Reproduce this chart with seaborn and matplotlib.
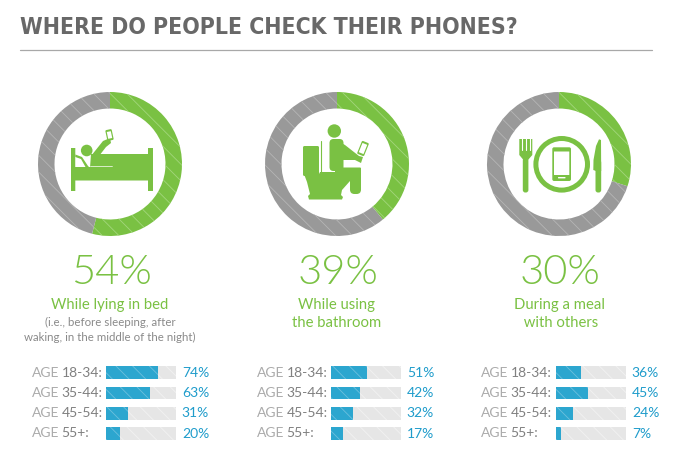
import matplotlib
matplotlib.use('Agg')
import matplotlib.pyplot as plt
import matplotlib.patches as mp
from matplotlib import font_manager as fm
from matplotlib.transforms import Affine2D
import pandas as pd
import seaborn as sns

# datos
title = 'WHERE DO PEOPLE CHECK THEIR PHONES?'
totals = [54, 39, 30]
totals_txt = ['54%', '39%', '30%']
labels = [['While lying in bed'], ['While using', 'the bathroom'], ['During a meal', ' with others']]
notes = ['(i.e., before sleeping, after\nwaking, in the middle of the night)', '', '']
ages = ['18-34:', '35-44:', '45-54:', '55+:']
by_age_bed = [74, 63, 31, 20]
by_age_bath = [51, 42, 32, 17]
by_age_meal = [36, 45, 24, 7]
track = [100, 100, 100, 100]

GREEN = '#7AC143'
GREY = '#999999'
BLUE = '#2CA6CF'
BLUE_TXT = '#1F9CCB'
TRACK = '#E6E6E6'

W, H = 686, 473
sns.set_theme(style='white')
plt.rcParams['font.family'] = ['Lato', 'DejaVu Sans']
plt.rcParams['hatch.linewidth'] = 0.6

fig = plt.figure(figsize=(W / 100, H / 100), dpi=100, facecolor='white')


def title_font():
    # busca una fuente estrecha en negrita; si no hay, Roboto
    found = []
    for f in fm.fontManager.ttflist:
        low = f.fname.lower()
        narrow = 'condensed' in low or 'narrow' in low or str(f.stretch) in ('condensed', 'semi-condensed', 'extra-condensed')
        if narrow and 'bold' in low and 'oblique' not in low and 'italic' not in low \
                and 'mono' not in low and 'serif' not in low:
            found.append(f.fname)
    if found:
        return fm.FontProperties(fname=sorted(found)[0])
    return fm.FontProperties(family='Roboto', weight='bold')


def px_axes(x0, y0, x1, y1):
    # ejes a partir de pixeles de la imagen (y hacia abajo)
    return fig.add_axes([x0 / W, 1 - y1 / H, (x1 - x0) / W, (y1 - y0) / H])


def donut(cx, cy, pct):
    r = 72
    ax = px_axes(cx - r, cy - r, cx + r, cy + r)
    wedges, _ = ax.pie([pct, 100 - pct], colors=[GREEN, GREY], startangle=90, counterclock=False,
                       radius=1, wedgeprops={'width': 16.5 / 72, 'linewidth': 0})
    wedges[0].set(hatch='\\\\', edgecolor='#A3D67C', linewidth=0)
    wedges[1].set(hatch='\\\\', edgecolor='#B5B5B5', linewidth=0)
    ax.set_xlim(-1, 1)
    ax.set_ylim(-1, 1)
    ax.axis('off')


def age_bars(x0, values):
    ax = px_axes(x0, 362.5, x0 + 70, 444)
    df = pd.DataFrame({'age': ages, 'pct': values, 'track': track})
    sns.barplot(data=df, y='age', x='track', color=TRACK, saturation=1, width=0.63, ax=ax)
    n = len(ax.patches)
    sns.barplot(data=df, y='age', x='pct', color=BLUE, saturation=1, width=0.63, ax=ax)
    for i, p in enumerate(ax.patches):
        p.set_linewidth(0)
        p.set_hatch('\\\\')
        p.set_edgecolor('#F2F2F2' if i < n else '#6CC0DD')
    ax.set_xlim(0, 100)
    ax.axis('off')
    for i, v in enumerate(values):
        ax.annotate(f'{v}%', xy=(1, i), xycoords=ax.get_yaxis_transform(), xytext=(4.2, 0),
                    textcoords='offset points', color=BLUE_TXT, fontsize=10, va='center')


def rrect(ax, x, y, w, h, r=1.0, color=GREEN, angle=0, z=3):
    p = mp.FancyBboxPatch((x, y), w, h, boxstyle=f'round,pad=0,rounding_size={r}', fc=color, ec='none', zorder=z)
    if angle:
        p.set_transform(Affine2D().rotate_deg_around(x + w / 2, y + h / 2, angle) + ax.transData)
    ax.add_patch(p)


def poly(ax, pts, color=GREEN, z=3):
    ax.add_patch(mp.Polygon(pts, closed=True, fc=color, ec='none', zorder=z))


def circ(ax, x, y, r, color=GREEN, z=3):
    ax.add_patch(mp.Circle((x, y), r, fc=color, ec='none', zorder=z))


def phone(ax, cx, cy, w, h, angle):
    rrect(ax, cx - w / 2, cy - h / 2, w, h, r=1.2, angle=angle)
    rrect(ax, cx - w / 2 + 1.2, cy - h / 2 + 2, w - 2.4, h - 4, r=0.3, color='white', angle=angle, z=4)


def icon_bed(ax):
    rrect(ax, 71, 148, 4.3, 43, r=0.2)
    rrect(ax, 148, 148, 5, 43, r=0.2)
    rrect(ax, 75, 167, 73, 13.5, r=0.2)
    poly(ax, [(91, 154.5), (148, 154.5), (148, 168), (90, 168)])
    ax.plot([90, 112], [166.4, 166.4], color='white', lw=0.5, zorder=4)
    circ(ax, 86.7, 150.5, 5.8)
    poly(ax, [(91, 156), (103, 141), (110, 138), (111, 143), (106, 147), (99, 156)])
    # almohada
    poly(ax, [(75.3, 167), (75.3, 154.5), (82, 157), (88, 166), (89, 167)])
    poly(ax, [(75.3, 167), (75.3, 157), (81, 159), (85.5, 167)], color='white', z=4)
    phone(ax, 109.5, 135, 6.5, 11, -12)


def icon_toilet(ax):
    rrect(ax, 303, 146, 16, 30, r=1.5)
    poly(ax, [(304, 174), (319, 174), (320, 172), (351, 172), (350, 181), (342, 190),
              (341, 195), (343, 197), (342, 199.5), (309, 199.5), (308, 196), (310, 194), (307, 182)])
    circ(ax, 334.3, 131, 6.7)
    rrect(ax, 329.5, 139, 14, 32, r=4)
    poly(ax, [(338, 141), (345, 145), (359, 156), (363, 157), (361, 163), (355, 160), (343, 160)])
    rrect(ax, 335, 167.5, 26, 8, r=1)
    rrect(ax, 350, 168, 11, 26, r=4.5)
    phone(ax, 363, 148.5, 7.5, 14, 22)
    ax.plot([321, 321], [141, 172], color=GREEN, lw=0.8, zorder=3)


def icon_meal(ax):
    # plato y telefono
    circ(ax, 561.7, 164.3, 28.3)
    circ(ax, 561.7, 164.3, 23.3, color='white', z=4)
    rrect(ax, 552.3, 147.3, 18.7, 33.7, r=1.8, z=5)
    rrect(ax, 554, 151.5, 15.3, 23.5, r=0.2, color='white', z=6)
    rrect(ax, 558, 177, 7.5, 1.4, r=0.5, color='white', z=6)
    # tenedor
    rrect(ax, 522.8, 158, 5.6, 34.5, r=2.5)
    poly(ax, [(519.3, 139), (532.3, 139), (532.3, 155), (528, 160), (523.5, 160), (519.3, 155)])
    for x in [522.3, 526.3, 529.8]:
        ax.plot([x, x], [138.5, 150], color='white', lw=0.8, zorder=4)
    # cuchillo
    rrect(ax, 595.5, 160, 5.7, 32.5, r=2.5)
    poly(ax, [(601, 140), (599, 139.3), (596, 146), (593.5, 160), (593.3, 170), (596, 171), (601.2, 171)])


ax_bg = px_axes(0, 0, W, H)
ax_bg.set_xlim(0, W)
ax_bg.set_ylim(H, 0)
ax_bg.axis('off')
ax_bg.set_zorder(5)
ax_bg.patch.set_alpha(0)

t = ax_bg.text(20, 27, title, fontproperties=title_font(), fontsize=22, color='#686868', va='center', ha='left')
# ajusta el tamano para que el titulo ocupe hasta x=515
width = t.get_window_extent(fig.canvas.get_renderer()).width
t.set_fontsize(22 * 495 / width)
ax_bg.plot([20, 652], [50, 50], color='#A8A8A8', lw=0.9)

centers = [110, 337, 559]
bar_x = [106, 331, 556]
age_x = [32, 257, 481]
series = [by_age_bed, by_age_bath, by_age_meal]

for i in range(3):
    donut(centers[i], 164, totals[i])
    age_bars(bar_x[i], series[i])
    ax_bg.text(centers[i] + 1, 272.5, totals_txt[i], color=GREEN, fontsize=30, fontweight=300, ha='center', va='center')
    for j, line in enumerate(labels[i]):
        ax_bg.text(centers[i], 305 + j * 18, line, color=GREEN, fontsize=10.7, ha='center', va='center')
    if notes[i]:
        ax_bg.text(centers[i], 330, notes[i], color='#8A8A8A', fontsize=8.3, ha='center', va='center', linespacing=1.4)
    for k, a in enumerate(ages):
        y = 372.5 + k * 20.2
        ax_bg.text(age_x[i], y, 'AGE', color='#ABABAB', fontsize=10, va='center')
        ax_bg.text(age_x[i] + 29.5, y, a, color='#808080', fontsize=10, va='center')

icon_bed(ax_bg)
icon_toilet(ax_bg)
icon_meal(ax_bg)

fig.savefig('out.png', dpi=100)
plt.close(fig)
